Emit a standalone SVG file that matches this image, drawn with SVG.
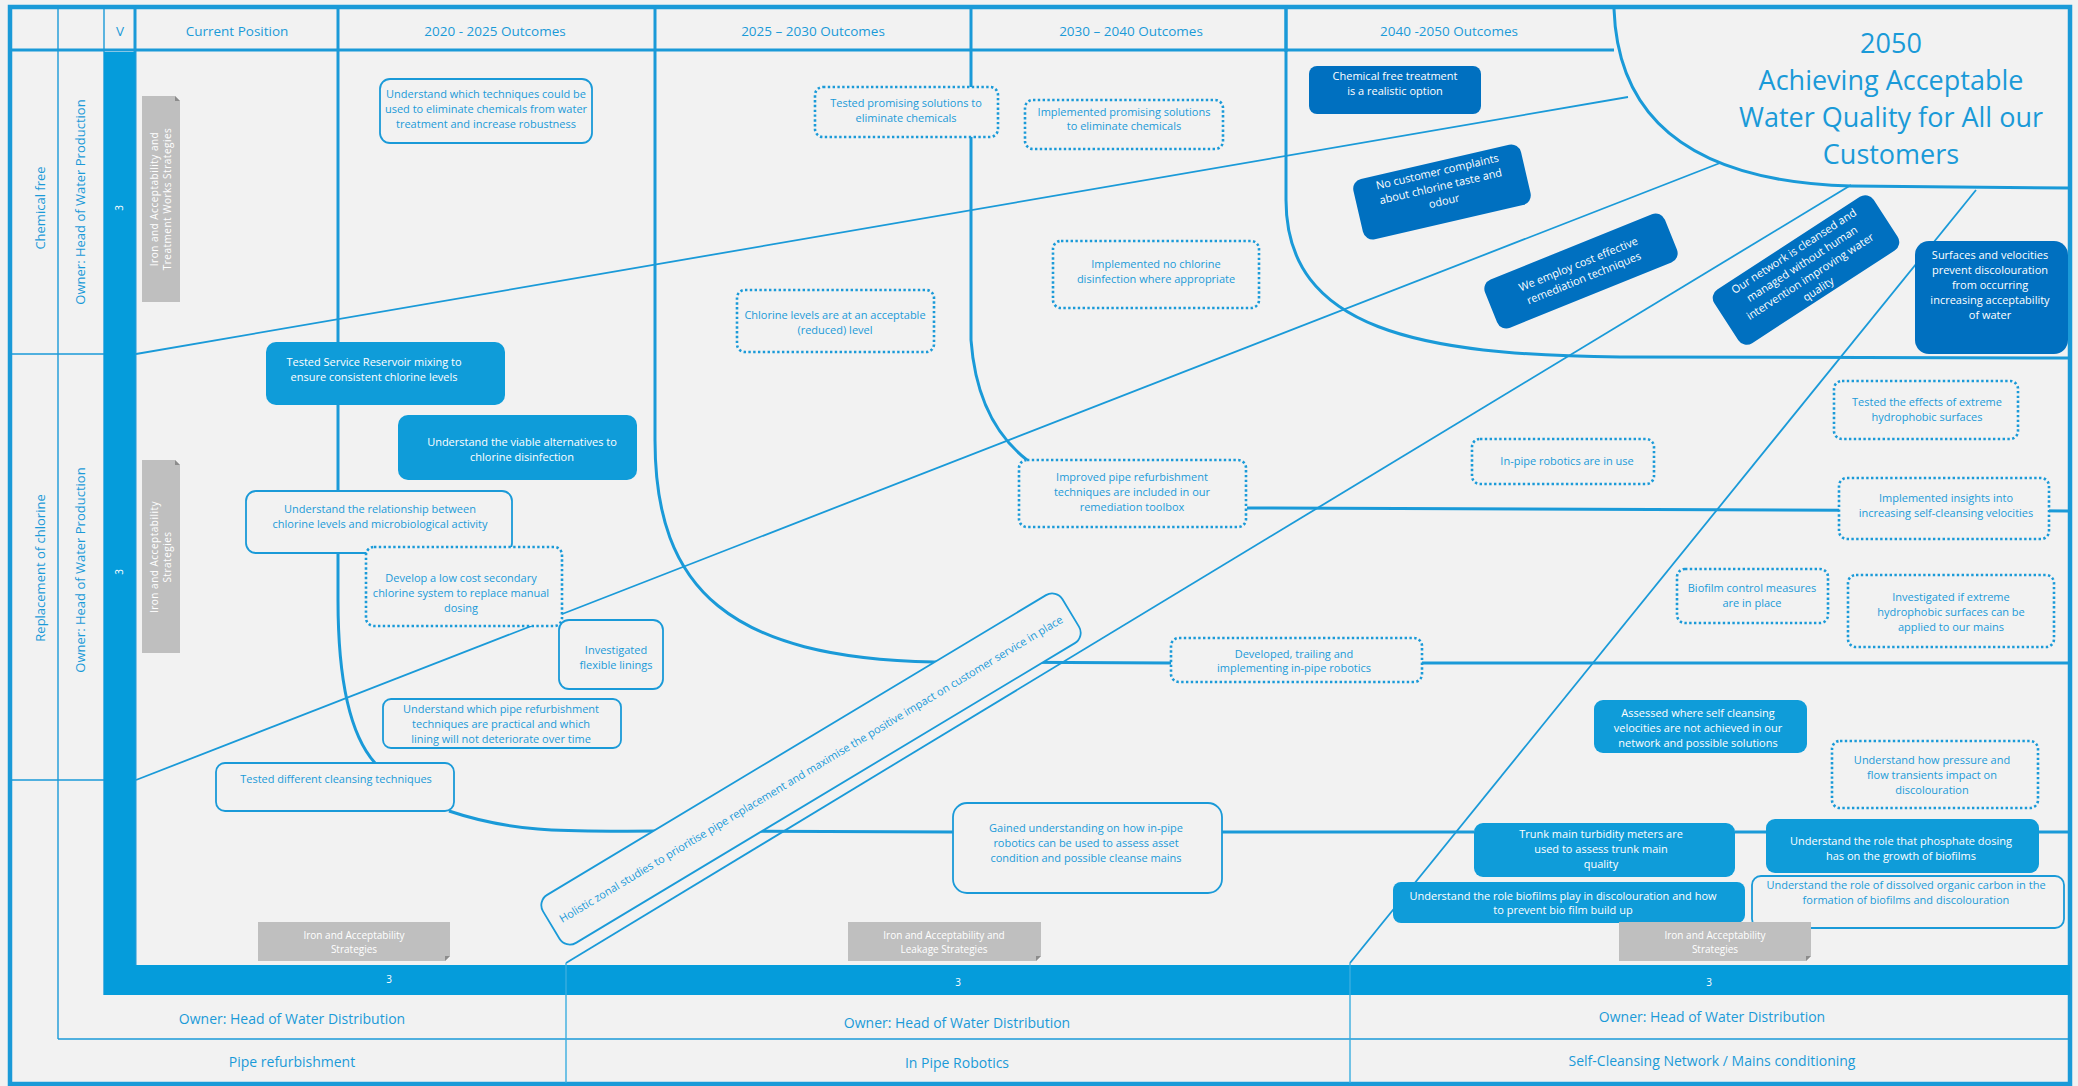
<svg xmlns="http://www.w3.org/2000/svg" width="2078" height="1086" viewBox="0 0 2078 1086">
<style>
.ln{fill:none;stroke:#1a9ad8;stroke-width:1.8}
.thk{fill:none;stroke:#1a9ad8;stroke-width:3}
.thin{fill:none;stroke:#1a9ad8;stroke-width:1.4}
.sol{fill:#f2f2f2;stroke:#1a9ad8;stroke-width:1.8}
.dot{fill:#f2f2f2;stroke:#1a9ad8;stroke-width:2.6;stroke-dasharray:2.4 2.4}
.med{fill:#0f9cd9}
.dark{fill:#0070c0}
.gray{fill:#bfbfbf}
.fold{fill:#8c8c8c}
.t{font-family:'Open Sans','Noto Sans',sans-serif;font-size:11px;fill:#1a9ad8;text-anchor:middle}
.w{fill:#ffffff}
.h{font-size:13.5px}
.lab{font-size:13px}
.bot{font-size:14px}
.g{font-size:10px;fill:#ffffff}
.ttl{font-size:27px}
.n3{font-size:10px;fill:#ffffff}
</style>
<rect x="0" y="0" width="2078" height="1086" fill="#f2f2f2"/>

<g id="grid">
  <rect x="10" y="7" width="2060" height="1077" fill="none" stroke="#1a9ad8" stroke-width="4.5"/>
  <line class="thk" x1="10" y1="50" x2="1614" y2="50"/>
  <line class="thin" x1="58" y1="9" x2="58" y2="1039"/>
  <line class="thin" x1="104" y1="9" x2="104" y2="995"/>
  <line class="thk" x1="135" y1="9" x2="135" y2="995"/>
  <line class="thin" x1="10" y1="354" x2="104" y2="354"/>
  <line class="thin" x1="10" y1="780" x2="104" y2="780"/>
  <line class="thin" x1="58" y1="1039" x2="2068" y2="1039"/>
  <line class="thk" x1="1286" y1="9" x2="1286" y2="52"/>
</g>

<g id="connectors">
  <path class="ln" d="M136,354 L1628,97"/>
  <path class="ln" d="M136,780 L1720,163"/>
  <path class="ln" d="M566,963 L1851,185"/>
  <path class="ln" d="M1350,963 L1976,190"/>
  <path class="thk" d="M1614,9 C1618,125 1700,182 1851,186 L2068,188"/>
  <path class="thk" d="M1286,9 L1286,200 C1286,330 1420,355 1620,357 L2068,358"/>
  <path class="thk" d="M338,9 L338,600 C338,680 350,735 375,763"/>
  <path class="thk" d="M655,9 L655,440 C655,590 730,658 934,662 L1171,663"/>
  <path class="thk" d="M1422,663 L2068,663"/>
  <path class="thk" d="M971,9 L971,340 C975,395 995,435 1027,460"/>
  <path class="thk" d="M1247,508 L2068,511"/>
  <path class="thk" d="M449,811 C520,835 580,831 656,831 L953,832"/>
  <path class="thk" d="M1222,832 L1474,832 M1735,832 L1766,832 M2039,832 L2068,832"/>
</g>

<g id="bar">
  <rect x="104" y="52" width="31" height="943" fill="#059cdb"/>
  <rect x="104" y="965" width="1966" height="30" fill="#059cdb"/>
  <line x1="566" y1="963" x2="566" y2="1083" stroke="#3aaee0" stroke-width="1.4"/>
  <line x1="1350" y1="963" x2="1350" y2="1083" stroke="#3aaee0" stroke-width="1.4"/>
  <text class="t n3" transform="translate(123,208) rotate(-90)">3</text>
  <text class="t n3" transform="translate(123,572) rotate(-90)">3</text>
  <text class="t n3" x="389" y="983">3</text>
  <text class="t n3" x="958" y="986">3</text>
  <text class="t n3" x="1709" y="986">3</text>
</g>

<g id="headers">
  <text class="t h" x="120" y="36">V</text>
  <text class="t h" x="237" y="36">Current Position</text>
  <text class="t h" x="495" y="36">2020 - 2025 Outcomes</text>
  <text class="t h" x="813" y="36">2025 – 2030 Outcomes</text>
  <text class="t h" x="1131" y="36">2030 – 2040 Outcomes</text>
  <text class="t h" x="1449" y="36">2040 -2050 Outcomes</text>
</g>

<g id="lane-labels">
  <text class="t lab" transform="translate(45,208) rotate(-90)">Chemical free</text>
  <text class="t lab" transform="translate(85,202) rotate(-90)">Owner: Head of Water Production</text>
  <text class="t lab" transform="translate(45,568) rotate(-90)">Replacement of chlorine</text>
  <text class="t lab" transform="translate(85,570) rotate(-90)">Owner: Head of Water Production</text>
  <text class="t bot" x="292" y="1024">Owner: Head of Water Distribution</text>
  <text class="t bot" x="957" y="1028">Owner: Head of Water Distribution</text>
  <text class="t bot" x="1712" y="1022">Owner: Head of Water Distribution</text>
  <text class="t bot" x="292" y="1067">Pipe refurbishment</text>
  <text class="t bot" x="957" y="1068">In Pipe Robotics</text>
  <text class="t bot" x="1712" y="1066">Self-Cleansing Network / Mains conditioning</text>
</g>

<g id="title">
  <text class="t ttl" x="1891" y="53">2050</text>
  <text class="t ttl" x="1891" y="90">Achieving Acceptable</text>
  <text class="t ttl" x="1891" y="127">Water Quality for All our</text>
  <text class="t ttl" x="1891" y="164">Customers</text>
</g>

<g id="n1"><rect class="sol" x="380" y="79" width="212" height="64" rx="10"/>
<text class="t" x="486" y="98">Understand which techniques could be</text>
<text class="t" x="486" y="113">used to eliminate chemicals from water</text>
<text class="t" x="486" y="128">treatment and increase robustness</text></g>

<g id="n2"><rect class="dot" x="815" y="87" width="183" height="50" rx="8"/>
<text class="t" x="906" y="107">Tested promising solutions to</text>
<text class="t" x="906" y="122">eliminate chemicals</text></g>

<g id="n3"><rect class="dot" x="1025" y="100" width="198" height="49" rx="8"/>
<text class="t" x="1124" y="116">Implemented promising solutions</text>
<text class="t" x="1124" y="130">to eliminate chemicals</text></g>

<g id="n4"><rect class="dot" x="737" y="290" width="197" height="62" rx="8"/>
<text class="t" x="835" y="319">Chlorine levels are at an  acceptable</text>
<text class="t" x="835" y="334">(reduced) level</text></g>

<g id="n5"><rect class="dot" x="1053" y="241" width="206" height="67" rx="8"/>
<text class="t" x="1156" y="268">Implemented no chlorine</text>
<text class="t" x="1156" y="283">disinfection where appropriate</text></g>

<g id="n6"><rect class="dark" x="1309" y="66" width="172" height="48" rx="8"/>
<text class="t w" x="1395" y="80">Chemical free treatment</text>
<text class="t w" x="1395" y="95">is a realistic option</text></g>

<g id="n7" transform="translate(1442,192) rotate(-13)"><rect class="dark" x="-86" y="-31" width="172" height="62" rx="10"/>
<text class="t w" x="0" y="-17">No customer  complaints</text>
<text class="t w" x="0" y="-2">about chlorine taste and</text>
<text class="t w" x="0" y="13">odour</text></g>

<g id="n8" transform="translate(1581,271) rotate(-22)"><rect class="dark" x="-97" y="-26" width="194" height="52" rx="10"/>
<text class="t w" x="0" y="-3.5">We employ cost effective</text>
<text class="t w" x="0" y="11.5">remediation techniques</text></g>

<g id="n9" transform="translate(1806,270) rotate(-33)"><rect class="dark" x="-95" y="-32" width="190" height="64" rx="10"/>
<text class="t w" x="0" y="-18.5">Our network is cleansed and</text>
<text class="t w" x="0" y="-3.5">managed without human</text>
<text class="t w" x="0" y="11.5">intervention improving water</text>
<text class="t w" x="0" y="26.5">quality</text></g>

<g id="n10"><rect class="dark" x="1915" y="241" width="153" height="113" rx="14"/>
<text class="t w" x="1990" y="259">Surfaces and velocities</text>
<text class="t w" x="1990" y="274">prevent discolouration</text>
<text class="t w" x="1990" y="289">from occurring</text>
<text class="t w" x="1990" y="304">increasing acceptability</text>
<text class="t w" x="1990" y="319">of water</text></g>

<g id="n11"><rect class="med" x="266" y="342" width="239" height="63" rx="10"/>
<text class="t w" x="374" y="366">Tested Service Reservoir mixing to</text>
<text class="t w" x="374" y="381">ensure consistent  chlorine levels</text></g>

<g id="n12"><rect class="med" x="398" y="415" width="239" height="65" rx="10"/>
<text class="t w" x="522" y="446">Understand the viable alternatives to</text>
<text class="t w" x="522" y="461">chlorine disinfection</text></g>

<g id="n13"><rect class="sol" x="246" y="491" width="266" height="62" rx="10"/>
<text class="t" x="380" y="513">Understand the relationship between</text>
<text class="t" x="380" y="528">chlorine levels and microbiological activity</text></g>

<g id="n14"><rect class="dot" x="366" y="547" width="196" height="79" rx="8"/>
<text class="t" x="461" y="582">Develop a low cost secondary</text>
<text class="t" x="461" y="597">chlorine system to replace manual</text>
<text class="t" x="461" y="612">dosing</text></g>

<g id="n15"><rect class="sol" x="559" y="620" width="104" height="69" rx="10"/>
<text class="t" x="616" y="654">Investigated</text>
<text class="t" x="616" y="669">flexible linings</text></g>

<g id="n16"><rect class="sol" x="383" y="699" width="238" height="49" rx="8"/>
<text class="t" x="501" y="713">Understand which pipe refurbishment</text>
<text class="t" x="501" y="728">techniques are practical and which</text>
<text class="t" x="501" y="743">lining will not deteriorate over time</text></g>

<g id="n17"><rect class="sol" x="216" y="763" width="238" height="48" rx="9"/>
<text class="t" x="336" y="783">Tested different cleansing techniques</text></g>

<g id="n18" transform="translate(811,769) rotate(-31)"><rect class="sol" x="-303" y="-28" width="606" height="56" rx="12"/>
<text class="t" x="0" y="4" textLength="585" lengthAdjust="spacingAndGlyphs">Holistic zonal studies to prioritise pipe replacement and maximise the positive impact on customer service in place</text></g>

<g id="n19"><rect class="sol" x="953" y="803" width="269" height="90" rx="14"/>
<text class="t" x="1086" y="832">Gained understanding on how in-pipe</text>
<text class="t" x="1086" y="847">robotics can be used to assess asset</text>
<text class="t" x="1086" y="862">condition and possible cleanse mains</text></g>

<g id="n32"><rect class="dot" x="1019" y="460" width="227" height="67" rx="8"/>
<text class="t" x="1132" y="481">Improved pipe refurbishment</text>
<text class="t" x="1132" y="496">techniques are included in our</text>
<text class="t" x="1132" y="511">remediation toolbox</text></g>

<g id="n20"><rect class="dot" x="1171" y="638" width="251" height="44" rx="8"/>
<text class="t" x="1294" y="658">Developed, trailing and</text>
<text class="t" x="1294" y="672">implementing in-pipe robotics</text></g>

<g id="n21"><rect class="dot" x="1472" y="439" width="182" height="45" rx="8"/>
<text class="t" x="1567" y="465">In-pipe robotics are in use</text></g>

<g id="n22"><rect class="dot" x="1834" y="381" width="184" height="58" rx="8"/>
<text class="t" x="1927" y="406">Tested the effects of extreme</text>
<text class="t" x="1927" y="421">hydrophobic surfaces</text></g>

<g id="n23"><rect class="dot" x="1839" y="478" width="210" height="61" rx="8"/>
<text class="t" x="1946" y="502">Implemented insights into</text>
<text class="t" x="1946" y="517">increasing self-cleansing velocities</text></g>

<g id="n24"><rect class="dot" x="1677" y="569" width="151" height="54" rx="8"/>
<text class="t" x="1752" y="592">Biofilm control measures</text>
<text class="t" x="1752" y="607">are in place</text></g>

<g id="n25"><rect class="dot" x="1848" y="575" width="206" height="72" rx="8"/>
<text class="t" x="1951" y="601">Investigated if extreme</text>
<text class="t" x="1951" y="616">hydrophobic surfaces can be</text>
<text class="t" x="1951" y="631">applied to our mains</text></g>

<g id="n26"><rect class="med" x="1594" y="700" width="213" height="53" rx="9"/>
<text class="t w" x="1698" y="717">Assessed  where self cleansing</text>
<text class="t w" x="1698" y="732">velocities are not achieved in our</text>
<text class="t w" x="1698" y="747">network and possible solutions</text></g>

<g id="n27"><rect class="dot" x="1832" y="741" width="206" height="67" rx="8"/>
<text class="t" x="1932" y="764">Understand  how pressure and</text>
<text class="t" x="1932" y="779">flow transients impact on</text>
<text class="t" x="1932" y="794">discolouration</text></g>

<g id="n28"><rect class="med" x="1474" y="823" width="261" height="54" rx="9"/>
<text class="t w" x="1601" y="838">Trunk main turbidity meters are</text>
<text class="t w" x="1601" y="853">used to assess trunk main</text>
<text class="t w" x="1601" y="868">quality</text></g>

<g id="n29"><rect class="med" x="1766" y="819" width="273" height="54" rx="9"/>
<text class="t w" x="1901" y="845">Understand the role that phosphate dosing</text>
<text class="t w" x="1901" y="860">has on the growth of biofilms</text></g>

<g id="n30"><rect class="med" x="1393" y="882" width="352" height="41" rx="8"/>
<text class="t w" x="1563" y="900">Understand the role biofilms play in discolouration and how</text>
<text class="t w" x="1563" y="914">to prevent bio film build up</text></g>

<g id="n31"><rect class="sol" x="1752" y="876" width="312" height="52" rx="9"/>
<text class="t" x="1906" y="889">Understand the role of dissolved organic carbon in the</text>
<text class="t" x="1906" y="904">formation of biofilms and discolouration</text></g>

<g id="note1"><rect class="gray" x="142" y="96" width="38" height="206"/>
<polygon points="175,96 180,96 180,101" fill="#f2f2f2"/><polygon class="fold" points="175,96 175,101 180,101"/>
<text class="t g" transform="translate(161,199) rotate(-90)" letter-spacing="0.5"><tspan x="0" y="-3">Iron and Acceptability and</tspan><tspan x="0" y="10">Treatment Works Strategies</tspan></text></g>

<g id="note2"><rect class="gray" x="142" y="460" width="38" height="193"/>
<polygon points="175,460 180,460 180,465" fill="#f2f2f2"/><polygon class="fold" points="175,460 175,465 180,465"/>
<text class="t g" transform="translate(161,557) rotate(-90)" letter-spacing="0.5"><tspan x="0" y="-3">Iron and Acceptability</tspan><tspan x="0" y="10">Strategies</tspan></text></g>

<g id="note3"><rect class="gray" x="258" y="922" width="192" height="39"/>
<polygon points="445,961 450,961 450,956" fill="#f2f2f2"/><polygon class="fold" points="445,961 445,956 450,956"/>
<text class="t g" x="354" y="938.5">Iron and Acceptability</text>
<text class="t g" x="354" y="952.5">Strategies</text></g>

<g id="note4"><rect class="gray" x="848" y="922" width="193" height="39"/>
<polygon points="1036,961 1041,961 1041,956" fill="#f2f2f2"/><polygon class="fold" points="1036,961 1036,956 1041,956"/>
<text class="t g" x="944" y="938.5">Iron and Acceptability and</text>
<text class="t g" x="944" y="952.5">Leakage Strategies</text></g>

<g id="note5"><rect class="gray" x="1619" y="922" width="192" height="39"/>
<polygon points="1806,961 1811,961 1811,956" fill="#f2f2f2"/><polygon class="fold" points="1806,961 1806,956 1811,956"/>
<text class="t g" x="1715" y="938.5">Iron and Acceptability</text>
<text class="t g" x="1715" y="952.5">Strategies</text></g>
</svg>
